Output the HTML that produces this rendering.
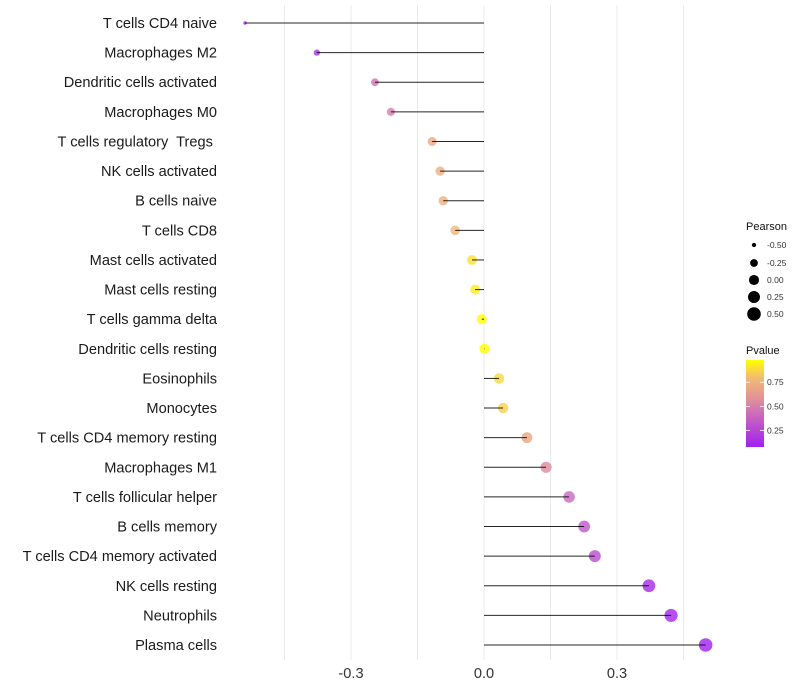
<!DOCTYPE html>
<html><head><meta charset="utf-8"><style>
body{margin:0;background:#fff;}
svg{display:block;font-family:"Liberation Sans",sans-serif;}
text{white-space:pre;}
</style></head><body>
<svg id="chart" width="800" height="700" viewBox="0 0 800 700">
<defs><linearGradient id="pg" x1="0" y1="1" x2="0" y2="0">
<stop offset="0" stop-color="#A020F0"/><stop offset="0.35" stop-color="#C865C0"/>
<stop offset="0.55" stop-color="#E0909A"/><stop offset="0.8" stop-color="#F2BC70"/><stop offset="1" stop-color="#FFFF00"/>
</linearGradient></defs>
<g id="grid"></g>
<g id="marks"></g>
<g id="ylabels"></g>
<g id="xlabels"></g>
<g id="legend"></g>
</svg>
<script>
const categories=["T cells CD4 naive","Macrophages M2","Dendritic cells activated","Macrophages M0","T cells regulatory  Tregs ","NK cells activated","B cells naive","T cells CD8","Mast cells activated","Mast cells resting","T cells gamma delta","Dendritic cells resting","Eosinophils","Monocytes","T cells CD4 memory resting","Macrophages M1","T cells follicular helper","B cells memory","T cells CD4 memory activated","NK cells resting","Neutrophils","Plasma cells"];
const pearson=[-0.539,-0.377,-0.246,-0.21,-0.117,-0.099,-0.092,-0.065,-0.027,-0.02,-0.005,0.001,0.034,0.043,0.097,0.14,0.192,0.226,0.25,0.372,0.422,0.50];
const pvalue=[0.08,0.15,0.45,0.5,0.7,0.72,0.74,0.77,0.9,0.93,0.98,0.98,0.88,0.85,0.68,0.55,0.4,0.32,0.28,0.12,0.1,0.08];
const xTicks=[-0.3,0,0.3];
const xTickLabels=["-0.3","0.0","0.3"];
const gridVals=[-0.45,-0.3,-0.15,0,0.15,0.3,0.45];
const sizeLegendVals=[-0.5,-0.25,0,0.25,0.5];
const sizeLegendLabels=["-0.50","-0.25","0.00","0.25","0.50"];
const colorLegendVals=[0.25,0.5,0.75];
const colorLegendLabels=["0.25","0.50","0.75"];

const NS="http://www.w3.org/2000/svg";
const x=v=>484+v*443.3;
const y=i=>23+i*(645-23)/(categories.length-1);
const rmin=1.6,rmax=6.8,vmin=-0.55,vmax=0.5;
const rad=v=>Math.sqrt(rmin*rmin+(v-vmin)/(vmax-vmin)*(rmax*rmax-rmin*rmin));
const stops=[[0,[160,32,240]],[0.35,[200,101,192]],[0.55,[224,144,154]],[0.8,[242,188,112]],[1,[255,255,0]]];
const pmin=0.08,pmax=0.98;
function col(p){let t=(p-pmin)/(pmax-pmin);t=Math.max(0,Math.min(1,t));
for(let k=1;k<stops.length;k++){if(t<=stops[k][0]){const a=stops[k-1],b=stops[k];const f=(t-a[0])/(b[0]-a[0]);
return "rgb("+a[1].map((c,j)=>Math.round(c+(b[1][j]-c)*f)).join(",")+")";}}return "rgb(255,255,0)";}
function el(tag,attrs,parent,text){const e=document.createElementNS(NS,tag);for(const k in attrs)e.setAttribute(k,attrs[k]);if(text!==undefined)e.textContent=text;parent.appendChild(e);return e;}
const grid=document.getElementById('grid'),marks=document.getElementById('marks'),yl=document.getElementById('ylabels'),xl=document.getElementById('xlabels'),lg=document.getElementById('legend');
gridVals.forEach(v=>{const l=el('line',{x1:x(v),x2:x(v),y1:5,y2:660,stroke:'#ebebeb','stroke-width':1},grid);

});
categories.forEach((c,i)=>{
const p=el('circle',{cx:x(pearson[i]),cy:y(i),r:rad(pearson[i]),fill:col(pvalue[i]),'fill-opacity':0.8},marks);


const s=el('line',{x1:x(0),x2:x(pearson[i]),y1:y(i),y2:y(i),stroke:'#000','stroke-width':1,'stroke-opacity':0.85},marks);


const t=el('text',{x:217,y:y(i)+5,'text-anchor':'end','font-size':14.6,fill:'#1a1a1a'},yl,c);

});
xTicks.forEach((v,i)=>{const t=el('text',{x:x(v),y:678,'text-anchor':'middle','font-size':14.6,fill:'#333'},xl,xTickLabels[i]);

});
const t1=el('text',{x:746,y:230,'font-size':11,fill:'#111'},lg,'Pearson');


const ly=[245,263,280,297,314];
sizeLegendVals.forEach((v,i)=>{const c=el('circle',{cx:754,cy:ly[i],r:rad(v),fill:'#000'},lg);


const t=el('text',{x:767,y:ly[i]+3,'font-size':8.5,fill:'#333'},lg,sizeLegendLabels[i]);

});
const t2=el('text',{x:746,y:354,'font-size':11,fill:'#111'},lg,'Pvalue');


const bar=el('rect',{x:746,y:360,width:18,height:87,fill:'url(#pg)'},lg);


const cy=p=>447-(p-pmin)/(pmax-pmin)*87;
colorLegendVals.forEach((v,i)=>{
el('line',{x1:746,x2:750,y1:cy(v),y2:cy(v),stroke:'#fff','stroke-width':0.8},lg);
el('line',{x1:760,x2:764,y1:cy(v),y2:cy(v),stroke:'#fff','stroke-width':0.8},lg);
const t=el('text',{x:767,y:cy(v)+3,'font-size':8.5,fill:'#333'},lg,colorLegendLabels[i]);

});
</script>
</body></html>
